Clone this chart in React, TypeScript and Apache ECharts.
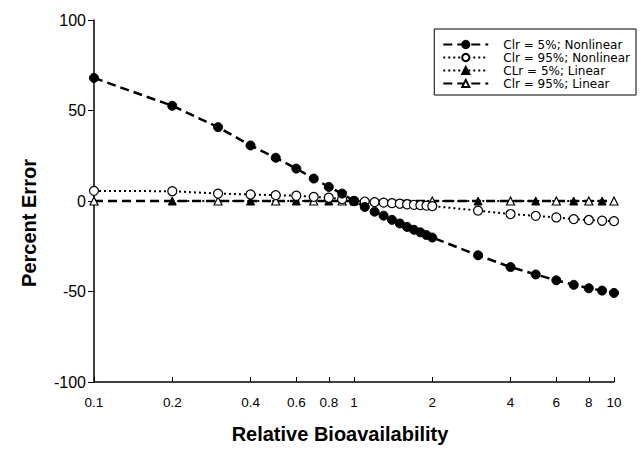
import React, { useEffect, useRef } from "react";
import * as echarts from "echarts";

const seriesNames = [
  "Clr = 5%; Nonlinear",
  "Clr = 95%; Nonlinear",
  "CLr = 5%; Linear",
  "Clr = 95%; Linear",
];

const xDense = [0.1, 0.2, 0.3, 0.4, 0.5, 0.6, 0.7, 0.8, 0.9, 1.0, 1.1, 1.2, 1.3, 1.4, 1.5, 1.6, 1.7, 1.8, 1.9, 2.0, 3, 4, 5, 6, 7, 8, 9, 10];

const clr5Nonlinear = [68, 52.6, 40.8, 30.7, 23.9, 17.9, 12.4, 7.8, 4.1, 0, -3.3, -5.9, -8.1, -10.4, -12.4, -14.3, -15.9, -17.3, -18.8, -20.2, -30, -36.5, -40.6, -43.8, -46.3, -48.2, -49.5, -50.8];
const clr95Nonlinear = [5.6, 5.4, 4.1, 3.6, 3.2, 2.9, 2.3, 1.8, 1.0, 0, -0.3, -0.6, -0.9, -1.2, -1.5, -1.8, -2.1, -2.3, -2.6, -2.8, -5.3, -7.2, -8.2, -9.1, -10.0, -10.5, -10.9, -11.1];

const xLinear5 = [0.2, 0.4, 0.6, 0.8, 1, 3, 5, 7, 9];
const clr5Linear = [0, 0, 0, 0, 0, 0, 0, 0, 0];
const xLinear95 = [0.1, 0.3, 0.5, 0.7, 0.9, 2, 4, 6, 8, 10];
const clr95Linear = [0, 0, 0, 0, 0, 0, 0, 0, 0, 0];

const xTicks = [0.1, 0.2, 0.4, 0.6, 0.8, 1, 2, 4, 6, 8, 10];

const FONT = "'Liberation Sans', Arial, Helvetica, sans-serif";
const WIDE_FONT = "'DejaVu Sans', 'Liberation Sans', Arial, sans-serif";

function pairs(xs: number[], ys: number[]) {
  return xs.map((x, i) => [x, ys[i]]);
}

export default function App() {
  const ref = useRef<HTMLDivElement>(null);
  useEffect(() => {
    if (!ref.current) return;
    const chart = echarts.init(ref.current, null, { renderer: "svg" });
    const black = "#000";
    chart.setOption({
      animation: false,
      backgroundColor: "#fff",
      textStyle: { fontFamily: FONT, color: black },
      grid: { left: 94, right: 30, top: 20, bottom: 65 },
      legend: {
        orient: "vertical",
        right: 8,
        top: 29,
        padding: [9, 6, 5, 8],
        borderColor: black,
        borderWidth: 1,
        itemWidth: 45,
        itemHeight: 9,
        itemGap: 0,
        textStyle: { fontSize: 12, color: black, fontFamily: WIDE_FONT, padding: [0, 0, 0, 10], lineHeight: 13 },
        data: seriesNames,
      },
      xAxis: {
        type: "log",
        logBase: 10,
        min: 0.1,
        max: 10,
        name: "Relative Bioavailability",
        nameLocation: "middle",
        nameGap: 42,
        nameTextStyle: { fontSize: 20, fontWeight: "bold", color: black, fontFamily: FONT, padding: [0, 28, 0, 0] },
        axisLine: { show: true, onZero: false, lineStyle: { color: black, width: 1.5 } },
        axisTick: { show: true, inside: true, length: 5, customValues: xTicks, lineStyle: { color: black, width: 1 } },
        minorTick: { show: false },
        axisLabel: {
          customValues: xTicks,
          fontSize: 13.5,
          color: black,
          margin: 13,
          formatter: (v: number) => String(+Number(v).toPrecision(6)),
        },
        splitLine: { show: false },
        minorSplitLine: { show: false },
      },
      yAxis: {
        type: "value",
        min: -100,
        max: 100,
        interval: 50,
        name: "Percent Error",
        nameLocation: "middle",
        nameGap: 55,
        nameTextStyle: { fontSize: 20, fontWeight: "bold", color: black, fontFamily: FONT, padding: [0, 44, 0, 0] },
        axisLine: { show: true, onZero: false, lineStyle: { color: black, width: 1.5 } },
        axisTick: { show: true, inside: false, length: 6, lineStyle: { color: black, width: 1 } },
        axisLabel: { fontSize: 16, color: black, margin: 8 },
        splitLine: { show: false },
      },
      series: [
        {
          name: seriesNames[0],
          type: "line",
          data: pairs(xDense, clr5Nonlinear),
          symbol: "circle",
          symbolSize: 9,
          itemStyle: { color: black, borderColor: black, borderWidth: 1 },
          lineStyle: { color: black, width: 2.5, type: [9, 5] },
          z: 4,
        },
        {
          name: seriesNames[1],
          type: "line",
          data: pairs(xDense, clr95Nonlinear),
          symbol: "circle",
          symbolSize: 9,
          itemStyle: { color: "#fff", borderColor: black, borderWidth: 1.2 },
          lineStyle: { color: black, width: 2, type: [2, 3] },
          z: 3,
        },
        {
          name: seriesNames[2],
          type: "line",
          data: pairs(xLinear5, clr5Linear),
          symbol: "triangle",
          symbolSize: 8,
          itemStyle: { color: black, borderColor: black, borderWidth: 1 },
          lineStyle: { color: black, width: 2, type: [2, 3] },
          z: 2,
        },
        {
          name: seriesNames[3],
          type: "line",
          data: pairs(xLinear95, clr95Linear),
          symbol: "triangle",
          symbolSize: 8,
          itemStyle: { color: "#fff", borderColor: black, borderWidth: 1.2 },
          lineStyle: { color: black, width: 2.5, type: [9, 5] },
          z: 2,
        },
      ],
    });
    return () => chart.dispose();
  }, []);
  return (
    <div
      ref={ref}
      style={{ position: "fixed", left: 0, top: 0, width: 644, height: 449, background: "#fff" }}
    />
  );
}
